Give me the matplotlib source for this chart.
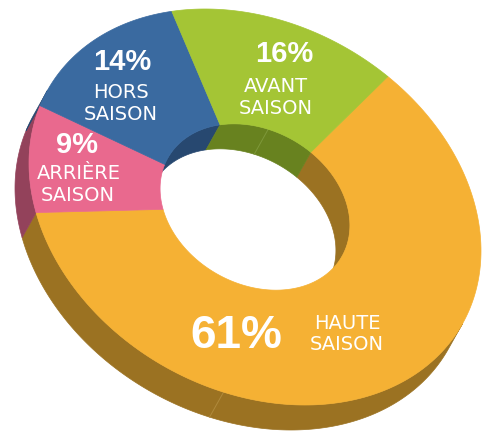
import numpy as np
import matplotlib.pyplot as plt
from matplotlib.patches import Polygon

# data
names = ['HAUTE SAISON', 'ARRIÈRE SAISON', 'HORS SAISON', 'AVANT SAISON']
pcts = [61, 9, 14, 16]
top_colors = ['#F5B134', '#E9698E', '#3A6AA0', '#A4C535']
side_colors = ['#9B7222', '#93425B', '#274870', '#68821F']
seam_colors = ['#B08A3C', '#A05670', '#35577F', '#7E983A']

# projected donut geometry (pixels, y down)
cx, cy = 255, 208
A = np.array([[226.0, 0.0], [43.8, 193.1]])
r_in = 0.42
off = np.array([-14.0, 25.0])
start = -54.0

# label layout: pct (x, y, size), text lines (x, y)
layout = [
    dict(p=(236, 336, 33), l=[(347, 324), (347, 345)], lines=['HAUTE', 'SAISON']),
    dict(p=(77, 145, 21), l=[(79, 174), (78, 196)], lines=['ARRIÈRE', 'SAISON']),
    dict(p=(122, 62, 21), l=[(121, 92), (121, 114)], lines=['HORS', 'SAISON']),
    dict(p=(284, 54, 21), l=[(276, 87), (276, 109)], lines=['AVANT', 'SAISON']),
]


def arc(r, t0, t1, n=200):
    t = np.radians(np.linspace(t0, t1, n))
    xy = A @ (np.vstack([np.cos(t), np.sin(t)]) * r)
    return np.column_stack([cx + xy[0], cy + xy[1]])


def clip(a, b, lo, hi):
    out = []
    for k in (-360, 0, 360):
        s, e = max(a, lo + k), min(b, hi + k)
        if e > s:
            out.append((s, e))
    return out


w = np.linalg.solve(A, off)
phi = np.degrees(np.arctan2(w[1], w[0]))

fig = plt.figure(figsize=(4.82, 4.35), dpi=100)
ax = fig.add_axes([0, 0, 1, 1])
ax.set_xlim(0, 482)
ax.set_ylim(435, 0)
ax.axis('off')

angles = start + np.concatenate([[0], np.cumsum(pcts)]) / sum(pcts) * 360

for i in range(len(pcts)):
    a, b = angles[i], angles[i + 1]
    # outer side wall (front facing part)
    for s, e in clip(a, b, phi - 90, phi + 90):
        p = arc(1, s, e)
        ax.add_patch(Polygon(np.vstack([p, (p + off)[::-1]]), closed=True,
                             fc=side_colors[i], ec=side_colors[i], lw=0.5, zorder=1))
    # inner wall (far side of the hole)
    for s, e in clip(a, b, phi + 90, phi + 270):
        p = arc(r_in, s, e)
        ax.add_patch(Polygon(np.vstack([p, (p + off)[::-1]]), closed=True,
                             fc=side_colors[i], ec=side_colors[i], lw=0.5, zorder=1))

for i in range(len(pcts)):
    a, b = angles[i], angles[i + 1]
    ax.add_patch(Polygon(np.vstack([arc(1, a, b), arc(r_in, a, b)[::-1]]), closed=True,
                         fc=top_colors[i], ec=top_colors[i], lw=0.5, zorder=2))

# faint facet seams
for r, t, c in [(1, 98, seam_colors[0]), (r_in, 278, seam_colors[3])]:
    p = arc(r, t, t, 1)[0]
    ax.plot([p[0], p[0] + off[0]], [p[1], p[1] + off[1]], color=c, lw=0.7, zorder=1.5)

for lay in layout:
    i = layout.index(lay)
    x, y, fs = lay['p']
    ax.text(x, y, '%d%%' % pcts[i], color='white', fontsize=fs, fontweight='bold',
            family=['Liberation Sans', 'DejaVu Sans'], ha='center', va='center', zorder=5)
    for (lx, ly), line in zip(lay['l'], lay['lines']):
        ax.text(lx, ly, line, color='white', fontsize=14,
                family=['DejaVu Sans'], ha='center', va='center', zorder=5)

fig.savefig('out.png', dpi=100)
